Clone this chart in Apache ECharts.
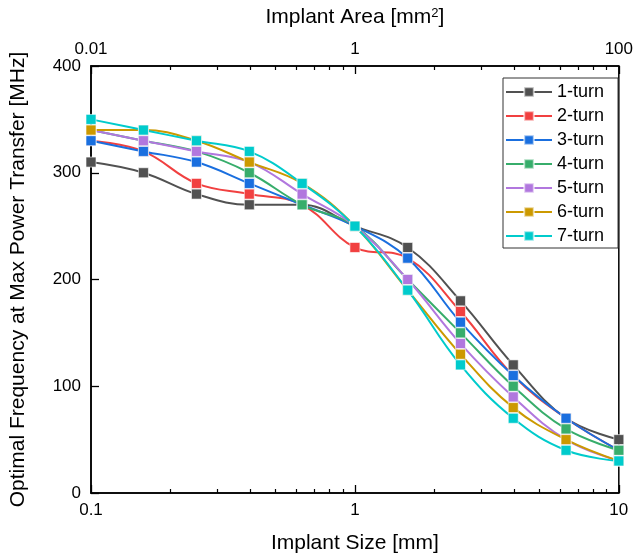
<!DOCTYPE html>
<html>
<head>
<meta charset="utf-8">
<script src="https://cdn.jsdelivr.net/npm/echarts@6/dist/echarts.min.js"></script>
<style>html,body{margin:0;padding:0;background:#fff}#c{width:636px;height:559px}</style>
</head>
<body>
<div id="c"></div>
<script>
// Implant size [mm] (bottom axis, log)
const sizes = [0.1, 0.158, 0.251, 0.398, 0.631, 1, 1.585, 2.512, 3.981, 6.31, 10];
const seriesNames = ['1-turn','2-turn','3-turn','4-turn','5-turn','6-turn','7-turn'];
const turn1 = [310, 300, 280, 270, 270, 250, 230, 180, 120, 70, 50];
const turn2 = [330, 320, 290, 280, 270, 230, 220, 170, 110, 70, 40];
const turn3 = [330, 320, 310, 290, 270, 250, 220, 160, 110, 70, 40];
const turn4 = [340, 330, 320, 300, 270, 250, 200, 150, 100, 60, 40];
const turn5 = [340, 330, 320, 310, 280, 250, 200, 140, 90, 50, 30];
const turn6 = [340, 340, 330, 310, 290, 250, 190, 130, 80, 50, 30];
const turn7 = [350, 340, 330, 320, 290, 250, 190, 120, 70, 40, 30];
const majorTicks = [0.1, 1, 10];
const minorTicks = [0.2,0.3,0.4,0.5,0.6,0.7,0.8,0.9,2,3,4,5,6,7,8,9];
const yTicks = [0, 100, 200, 300, 400];

const colors = ['#515151','#F14040','#1A6FDF','#37AD6B','#B177DE','#CC9900','#00CBCC'];
const allData = [turn1, turn2, turn3, turn4, turn5, turn6, turn7];
const FONT = 'Liberation Sans, Arial, sans-serif';

const fmt = v => String(Number(v.toPrecision(3)));

function logAxis(position, major, extra) {
  const base = {
    type: 'log', logBase: 10, min: 0.1, max: 10, position: position,
    splitLine: {show: false}, minorTick: {show: false}, minorSplitLine: {show: false}
  };
  if (major) {
    return Object.assign(base, {
      axisLine: {show: true, onZero: false, lineStyle: {color: '#000', width: 1.5}},
      axisTick: {show: true, inside: true, length: 8, lineStyle: {color: '#000', width: 1.3}, customValues: majorTicks},
      axisLabel: {show: true, customValues: majorTicks, fontSize: 17, color: '#000', fontFamily: FONT,
        margin: position === 'bottom' ? 9 : 8, showMinLabel: true, showMaxLabel: true,
        formatter: position === 'bottom' ? (v => fmt(v)) : (v => fmt(v * v))},
      name: extra.name, nameLocation: 'middle', nameGap: extra.gap,
      nameTextStyle: {fontSize: 21, color: '#000', fontFamily: FONT, rich: {sup: {fontSize: 13, verticalAlign: 'top', padding: [0,0,8,0], color: '#000', fontFamily: FONT}}}
    });
  }
  return Object.assign(base, {
    axisLine: {show: false, onZero: false},
    axisTick: {show: true, inside: true, length: 4, lineStyle: {color: '#000', width: 1.2}, customValues: minorTicks},
    axisLabel: {show: false}
  });
}

const chart = echarts.init(document.getElementById('c'), null, {renderer: 'canvas'});
chart.setOption({
  animation: false,
  backgroundColor: '#fff',
  grid: {left: 91, right: 14, top: 66, bottom: 66, show: true, borderColor: '#000', borderWidth: 1.5, backgroundColor: 'transparent'},
  xAxis: [
    logAxis('bottom', true, {name: 'Implant Size [mm]', gap: 40}),
    logAxis('bottom', false),
    logAxis('top', true, {name: 'Implant Area [mm{sup|2}]', gap: 38}),
    logAxis('top', false)
  ],
  yAxis: {
    type: 'value', min: 0, max: 400, interval: 100,
    axisLine: {show: true, onZero: false, lineStyle: {color: '#000', width: 1.5}},
    axisTick: {show: true, inside: true, length: 8, lineStyle: {color: '#000', width: 1.3}},
    splitLine: {show: false},
    axisLabel: {fontSize: 17, color: '#000', fontFamily: FONT, margin: 10,
      formatter: v => yTicks.includes(v) ? String(v) : ''},
    name: 'Optimal Frequency at Max Power Transfer [MHz]', nameLocation: 'middle', nameGap: 62,
    nameTextStyle: {fontSize: 21, color: '#000', fontFamily: FONT}
  },
  legend: {
    orient: 'vertical', left: 503, top: 78,
    backgroundColor: '#fff', borderColor: '#333', borderWidth: 1,
    padding: [5, 14, 3, 2],
    itemWidth: 46, itemHeight: 12, itemGap: 6,
    textStyle: {fontSize: 18, color: '#000', fontFamily: FONT, lineHeight: 18, padding: [0,0,0,0]},
    data: seriesNames
  },
  series: seriesNames.map((n, i) => ({
    name: n, type: 'line', xAxisIndex: 0, yAxisIndex: 0,
    data: sizes.map((x, j) => [x, allData[i][j]]),
    smooth: 0.4,
    symbol: 'rect', symbolSize: 10,
    lineStyle: {color: colors[i], width: 2},
    itemStyle: {color: colors[i], borderColor: 'rgba(255,255,255,0.6)', borderWidth: 1},
    emphasis: {disabled: true}
  }))
});
</script>
</body>
</html>
